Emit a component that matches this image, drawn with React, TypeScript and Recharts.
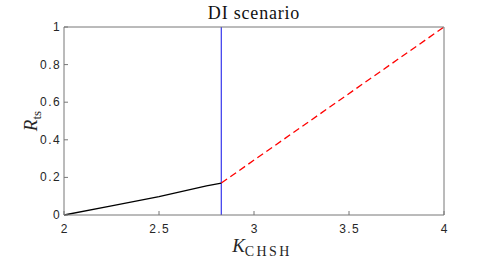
import { LineChart, Line, XAxis, YAxis, ReferenceLine, Label } from 'recharts';

// values
const xTicks = [2, 2.5, 3, 3.5, 4];
const yTicks = [0, 0.2, 0.4, 0.6, 0.8, 1];
const boundX = 2.828;
const solidPart = [
  { x: 2, y: 0 },
  { x: 2.25, y: 0.048 },
  { x: 2.5, y: 0.098 },
  { x: 2.75, y: 0.155 },
  { x: 2.828, y: 0.17 },
];
const dashedPart = [
  { x: 2.828, y: 0.17 },
  { x: 4, y: 1 },
];

const AXIS = '#777777';
const TEXT = '#262626';
const SERIF = '"Liberation Serif", "Times New Roman", serif';
const SANS = '"Liberation Sans", Arial, sans-serif';

const fmt = (v: number) => String(v);

function BottomTick({ x, y, payload }: any) {
  return (
    <g>
      <line x1={x} y1={y} x2={x} y2={y - 4} stroke={AXIS} />
      <text x={x + 0.7} y={y + 18} textAnchor="middle" fontSize={12} letterSpacing={1.4} fontFamily={SANS} fill={TEXT}>
        {fmt(payload.value)}
      </text>
    </g>
  );
}

function LeftTick({ x, y, payload }: any) {
  return (
    <g>
      <line x1={x} y1={y} x2={x + 4} y2={y} stroke={AXIS} />
      <text x={x - 3} y={y + 4} textAnchor="end" fontSize={12} letterSpacing={1.4} fontFamily={SANS} fill={TEXT}>
        {fmt(payload.value)}
      </text>
    </g>
  );
}

function TopTick({ x, y }: any) {
  return <line x1={x} y1={y} x2={x} y2={y + 4} stroke={AXIS} />;
}

function RightTick({ x, y }: any) {
  return <line x1={x} y1={y} x2={x - 4} y2={y} stroke={AXIS} />;
}

function XLabel({ viewBox }: any) {
  const cx = viewBox.x + viewBox.width / 2 + 8;
  return (
    <text x={cx} y={viewBox.y + 37} textAnchor="middle" fontFamily={SERIF} fill={TEXT}>
      <tspan fontStyle="italic" fontSize={19}>K</tspan>
      <tspan fontSize={14} dy={4} letterSpacing={2.4}>CHSH</tspan>
    </text>
  );
}

function YLabel({ viewBox }: any) {
  const cx = 37;
  const cy = viewBox.y + viewBox.height / 2;
  return (
    <text x={cx} y={cy} textAnchor="middle" fontFamily={SERIF} fill={TEXT} transform={`rotate(-90, ${cx}, ${cy})`}>
      <tspan fontStyle="italic" fontSize={19}>R</tspan>
      <tspan fontSize={13} dy={4}>ts</tspan>
    </text>
  );
}

function Title({ viewBox }: any) {
  const cx = viewBox.x + viewBox.width / 2;
  return (
    <text x={cx} y={19} textAnchor="middle" fontFamily={SERIF} fontSize={18} letterSpacing={0.8} fill="#111">
      DI scenario
    </text>
  );
}

export default function App() {
  return (
    <div style={{ position: 'absolute', left: 0, top: 0, width: 491, height: 260, background: '#fff' }}>
      <LineChart width={491} height={260} margin={{ top: 26, right: 46, bottom: 15, left: 0 }}>
        <XAxis
          xAxisId="b"
          type="number"
          dataKey="x"
          domain={[2, 4]}
          ticks={xTicks}
          height={30}
          tickSize={0}
          tickMargin={0}
          tick={<BottomTick />}
          axisLine={{ stroke: AXIS }}
          allowDataOverflow
          label={<Label content={<XLabel />} />}
        />
        <XAxis
          xAxisId="t"
          orientation="top"
          type="number"
          dataKey="x"
          domain={[2, 4]}
          ticks={xTicks}
          height={1}
          tickSize={0}
          tickMargin={0}
          tick={<TopTick />}
          axisLine={{ stroke: AXIS }}
          label={<Label content={<Title />} />}
        />
        <YAxis
          yAxisId="l"
          type="number"
          domain={[0, 1]}
          ticks={yTicks}
          width={64}
          tickSize={0}
          tickMargin={0}
          tick={<LeftTick />}
          axisLine={{ stroke: AXIS }}
          label={<Label content={<YLabel />} />}
        />
        <YAxis
          yAxisId="r"
          orientation="right"
          type="number"
          domain={[0, 1]}
          ticks={yTicks}
          width={1}
          tickSize={0}
          tickMargin={0}
          tick={<RightTick />}
          axisLine={{ stroke: AXIS }}
        />
        <ReferenceLine xAxisId="b" yAxisId="l" x={boundX} stroke="#4646ee" strokeWidth={1.3} />
        <Line
          xAxisId="b"
          yAxisId="l"
          data={solidPart}
          dataKey="y"
          stroke="#000"
          strokeWidth={1.3}
          dot={false}
          type="linear"
          isAnimationActive={false}
        />
        <Line
          xAxisId="b"
          yAxisId="l"
          data={dashedPart}
          dataKey="y"
          stroke="#ff0000"
          strokeWidth={1.3}
          strokeDasharray="7 4"
          dot={false}
          type="linear"
          isAnimationActive={false}
        />
      </LineChart>
    </div>
  );
}
